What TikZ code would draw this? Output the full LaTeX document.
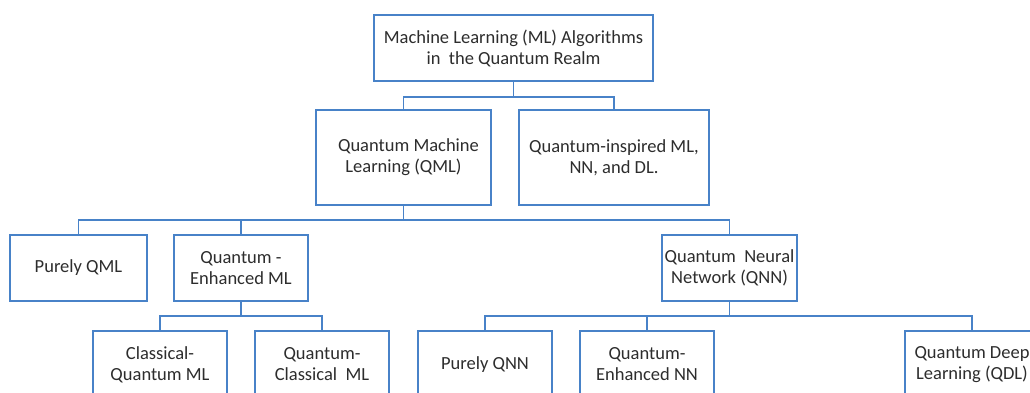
\documentclass[tikz,border=0pt]{standalone}
\usepackage{fontspec}
\setmainfont{Carlito}
\definecolor{boxblue}{RGB}{72,130,200}
\definecolor{txt}{RGB}{45,45,45}
\tikzset{
  box/.style={draw=boxblue, line width=1.8pt, rectangle, inner sep=0pt, align=center,
    text=txt, font=\fontsize{18.5}{21}\selectfont, minimum height=66pt},
  link/.style={draw=boxblue, line width=1.8pt}
}
\begin{document}
\begin{tikzpicture}[x=1pt,y=-1pt]
\useasboundingbox (0,0) rectangle (1030,392);
\clip (0,0) rectangle (1030,392);
\fill[white] (0,0) rectangle (1030,392);

\node[box, minimum width=279pt] (root) at (513.5,48) {Machine Learning (ML) Algorithms\\in\ \ the Quantum Realm};
\node[box, minimum width=175pt, minimum height=95pt] (qml) at (403.5,157.5) {\hspace{10pt}Quantum Machine\\Learning (QML)};
\node[box, minimum width=190pt, minimum height=95pt] (qi) at (614,157.5) {Quantum-inspired ML,\\NN, and DL.};

\node[box, minimum width=137pt] (pqml) at (78.5,268) {Purely QML};
\node[box, minimum width=134pt] (qeml) at (241,268) {Quantum -\\Enhanced ML};
\node[box, minimum width=135pt] (qnn) at (729.5,268) {Quantum\ \ Neural\\Network (QNN)};

\node[box, minimum width=134pt, minimum height=67pt] (cqml) at (160,364.5) {Classical-\\Quantum ML};
\node[box, minimum width=134pt, minimum height=67pt] (qcml) at (322,364.5) {Quantum-\\Classical\ \ ML};
\node[box, minimum width=134pt, minimum height=67pt] (pqnn) at (485,364.5) {Purely QNN};
\node[box, minimum width=134pt, minimum height=67pt] (qenn) at (647,364.5) {Quantum-\\Enhanced NN};
\node[box, minimum width=134pt, minimum height=67pt] (qdl) at (972,364.5) {Quantum Deep\\Learning (QDL)};

\coordinate (b1) at (0,97);
\coordinate (b2) at (0,220);
\coordinate (b3) at (0,316);

\draw[link] (root.south) -- (root.south |- b1);
\draw[link] (qml.north) -- (qml.north |- b1) -- (qi.north |- b1) -- (qi.north);

\draw[link] (qml.south) -- (qml.south |- b2);
\draw[link] (pqml.north) -- (pqml.north |- b2) -- (qnn.north |- b2) -- (qnn.north);
\draw[link] (qeml.north) -- (qeml.north |- b2);

\draw[link] (qeml.south) -- (qeml.south |- b3);
\draw[link] (cqml.north) -- (cqml.north |- b3) -- (qcml.north |- b3) -- (qcml.north);

\draw[link] (qnn.south) -- (qnn.south |- b3);
\draw[link] (pqnn.north) -- (pqnn.north |- b3) -- (qdl.north |- b3) -- (qdl.north);
\draw[link] (qenn.north) -- (qenn.north |- b3);
\end{tikzpicture}
\end{document}
